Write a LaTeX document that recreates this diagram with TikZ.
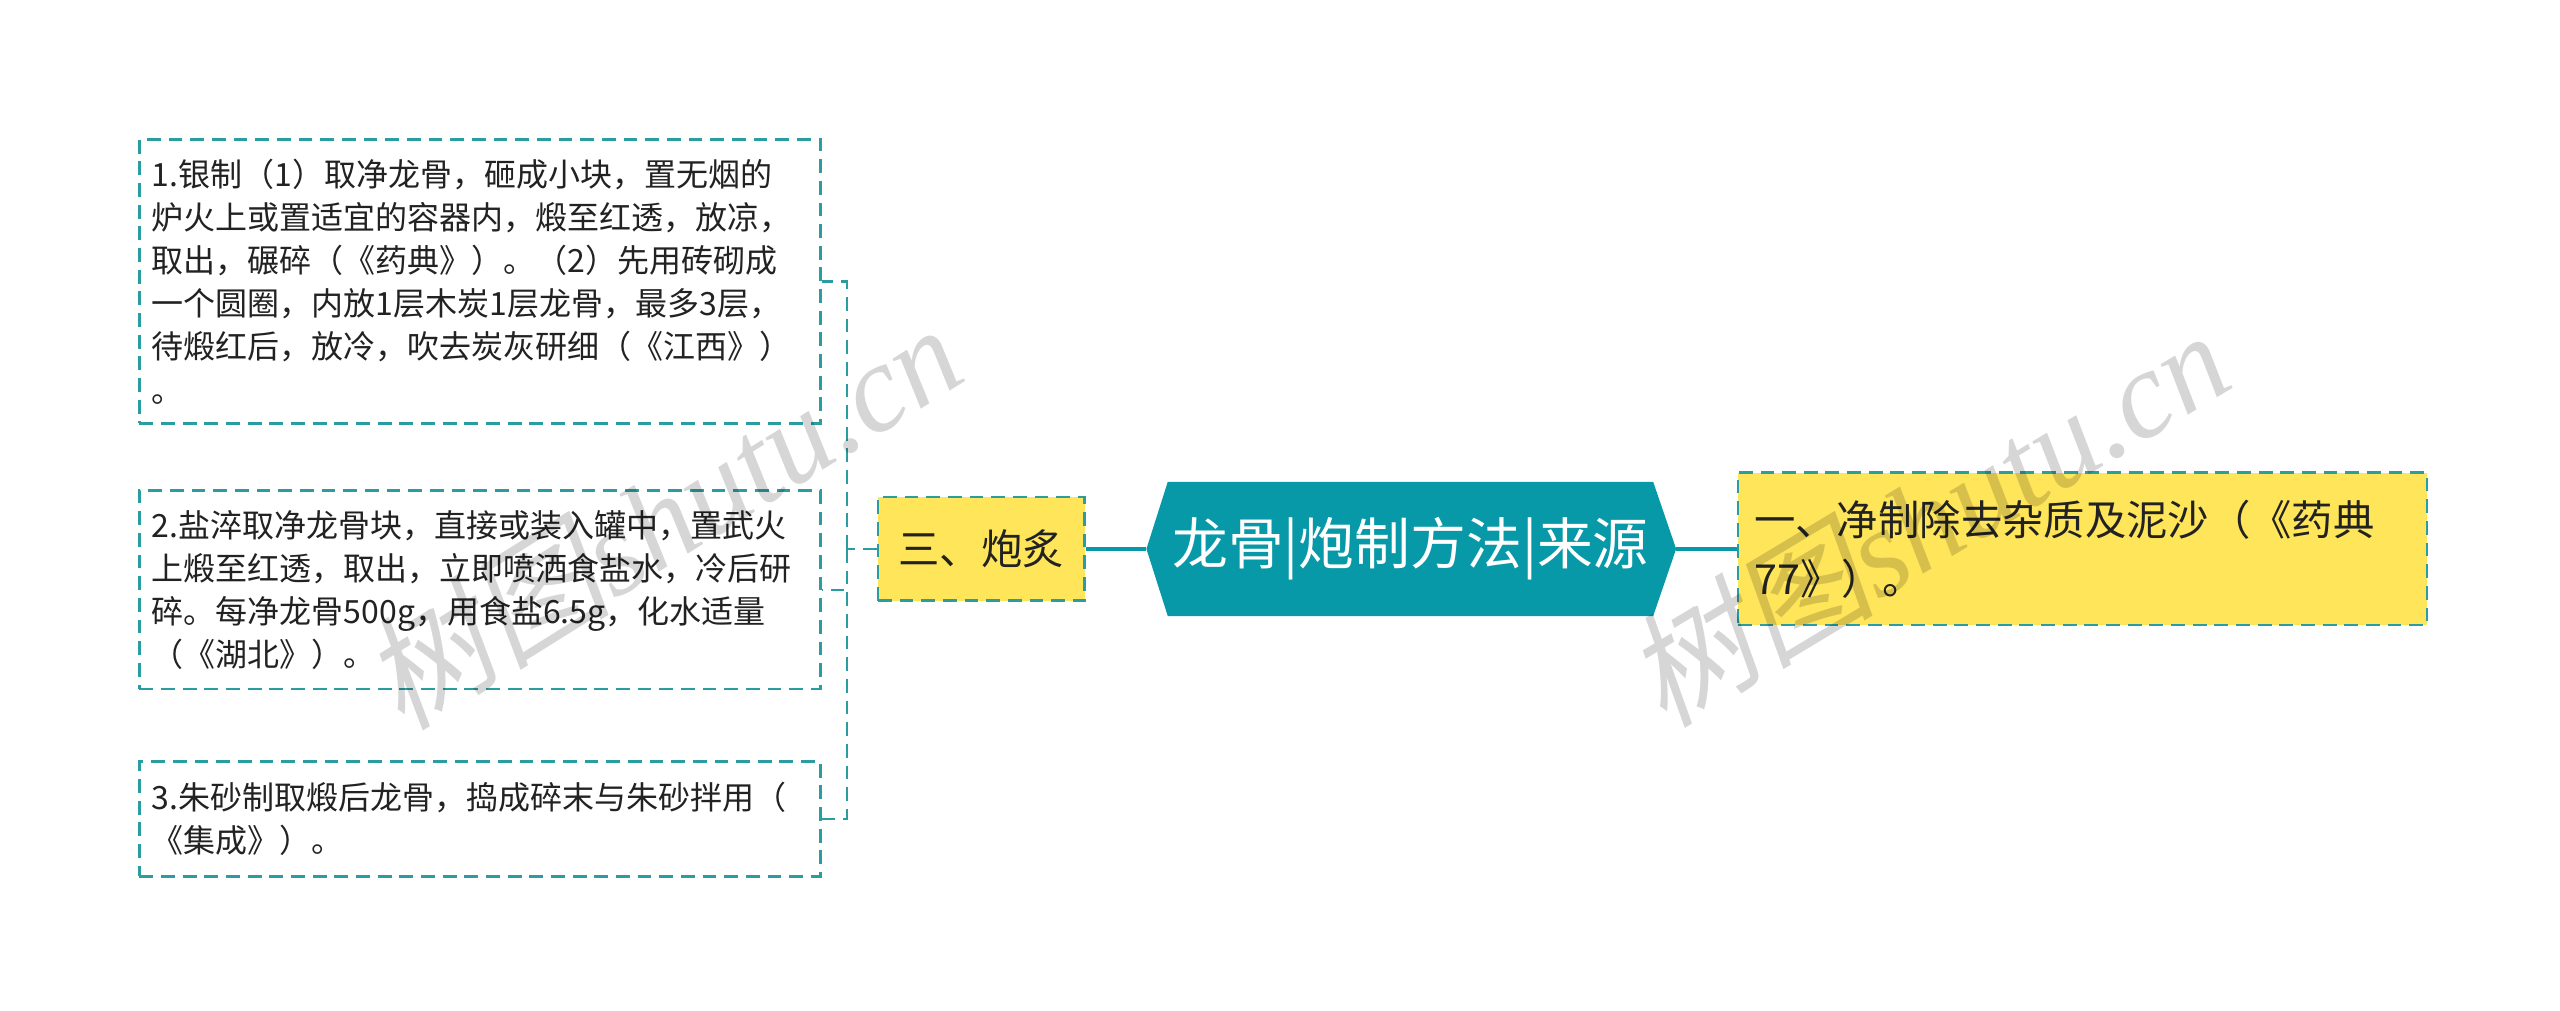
\documentclass[tikz,border=0pt]{standalone}
\usepackage{fontspec}
\setmainfont{Noto Sans CJK SC}
\newfontfamily\markcjk[FakeSlant=0.2]{Noto Sans CJK SC}
\newfontfamily\markserif{Liberation Serif}
\usetikzlibrary{backgrounds}
\definecolor{tealfill}{RGB}{8,153,168}
\definecolor{rim}{RGB}{42,157,160}
\definecolor{sun}{RGB}{255,229,90}
\definecolor{ink}{RGB}{34,34,34}

\begin{document}
\begin{tikzpicture}[x=0.5pt,y=-0.5pt,
        dashrim/.style={draw=rim,line width=0.75pt,dash pattern=on 4.2pt off 2.4pt},
        leaf/.style={dashrim,fill=white,text=ink,align=left,text width=200pt,
            inner xsep=3.75pt,inner ysep=0pt,font=\fontsize{9.75pt}{13.15pt}\selectfont},
        tag/.style={dashrim,fill=sun,text=ink,inner ysep=0pt,font=\fontsize{12.6pt}{18pt}\selectfont},
        trunk/.style={draw=tealfill,line width=1.3pt},
        wmark/.style={text=black,text opacity=0.16,font=\fontsize{38pt}{40pt}\selectfont}]
    \useasboundingbox (0,0) rectangle (1560,616);
    \node[leaf,minimum height=86.5pt] (b1) at (292.5,171.5) {1.银制（1）取净龙骨，砸成小块，置无烟的\\炉火上或置适宜的容器内，煅至红透，放凉，\\取出，碾碎（《药典》）。（2）先用砖砌成\\一个圆圈，内放1层木炭1层龙骨，最多3层，\\待煅红后，放冷，吹去炭灰研细（《江西》）\\。};
    \node[leaf,minimum height=60.5pt] (b2) at (292.5,359.5) {2.盐淬取净龙骨块，直接或装入罐中，置武火\\上煅至红透，取出，立即喷洒食盐水，冷后研\\碎。每净龙骨500g，用食盐6.5g，化水适量\\（《湖北》）。};
    \node[leaf,minimum height=35pt] (b3) at (292.5,499) {3.朱砂制取煅后龙骨，捣成碎末与朱砂拌用（\\《集成》）。};
    \node[tag,minimum width=63pt,minimum height=31.5pt] (pz) at (598,334.5) {三、炮炙};
    \node[text=white,inner sep=0pt,minimum width=147.5pt,minimum height=40.5pt,
        font=\fontsize{17pt}{20pt}\selectfont] (root) at (859.5,334.5) {龙骨|炮制方法|来源};
    \coordinate (rootL) at ([xshift=-6.5pt]root.west);
    \coordinate (rootR) at ([xshift=7pt]root.east);
    \begin{scope}[on background layer]
        \fill[tealfill] (root.north west) -- (root.north east) -- (rootR)
            -- (root.south east) -- (root.south west) -- (rootL) -- cycle;
    \end{scope}
    \node[tag,align=left,text width=200pt,inner xsep=5pt,minimum height=46.5pt] (src) at (1269,334.5) {一、净制除去杂质及泥沙（《药典\\77》）。};
    \coordinate (fork) at (516,334.5);
    \draw[trunk] (pz.east) -- (rootL);
    \draw[trunk] (rootR) -- (src.west);
    \draw[dashrim] (pz.west) -- (fork);
    \foreach \b in {b1,b2,b3}
        \draw[dashrim] (fork) |- (\b.east);
    \node[wmark,rotate=32] (wm1) at (403,314) {{\markcjk 树图}{\markserif\itshape shutu.cn}};
    \node[wmark,rotate=31] (wm2) at (1174,315) {{\markcjk 树图}{\markserif\itshape shutu.cn}};
\end{tikzpicture}
\end{document}
